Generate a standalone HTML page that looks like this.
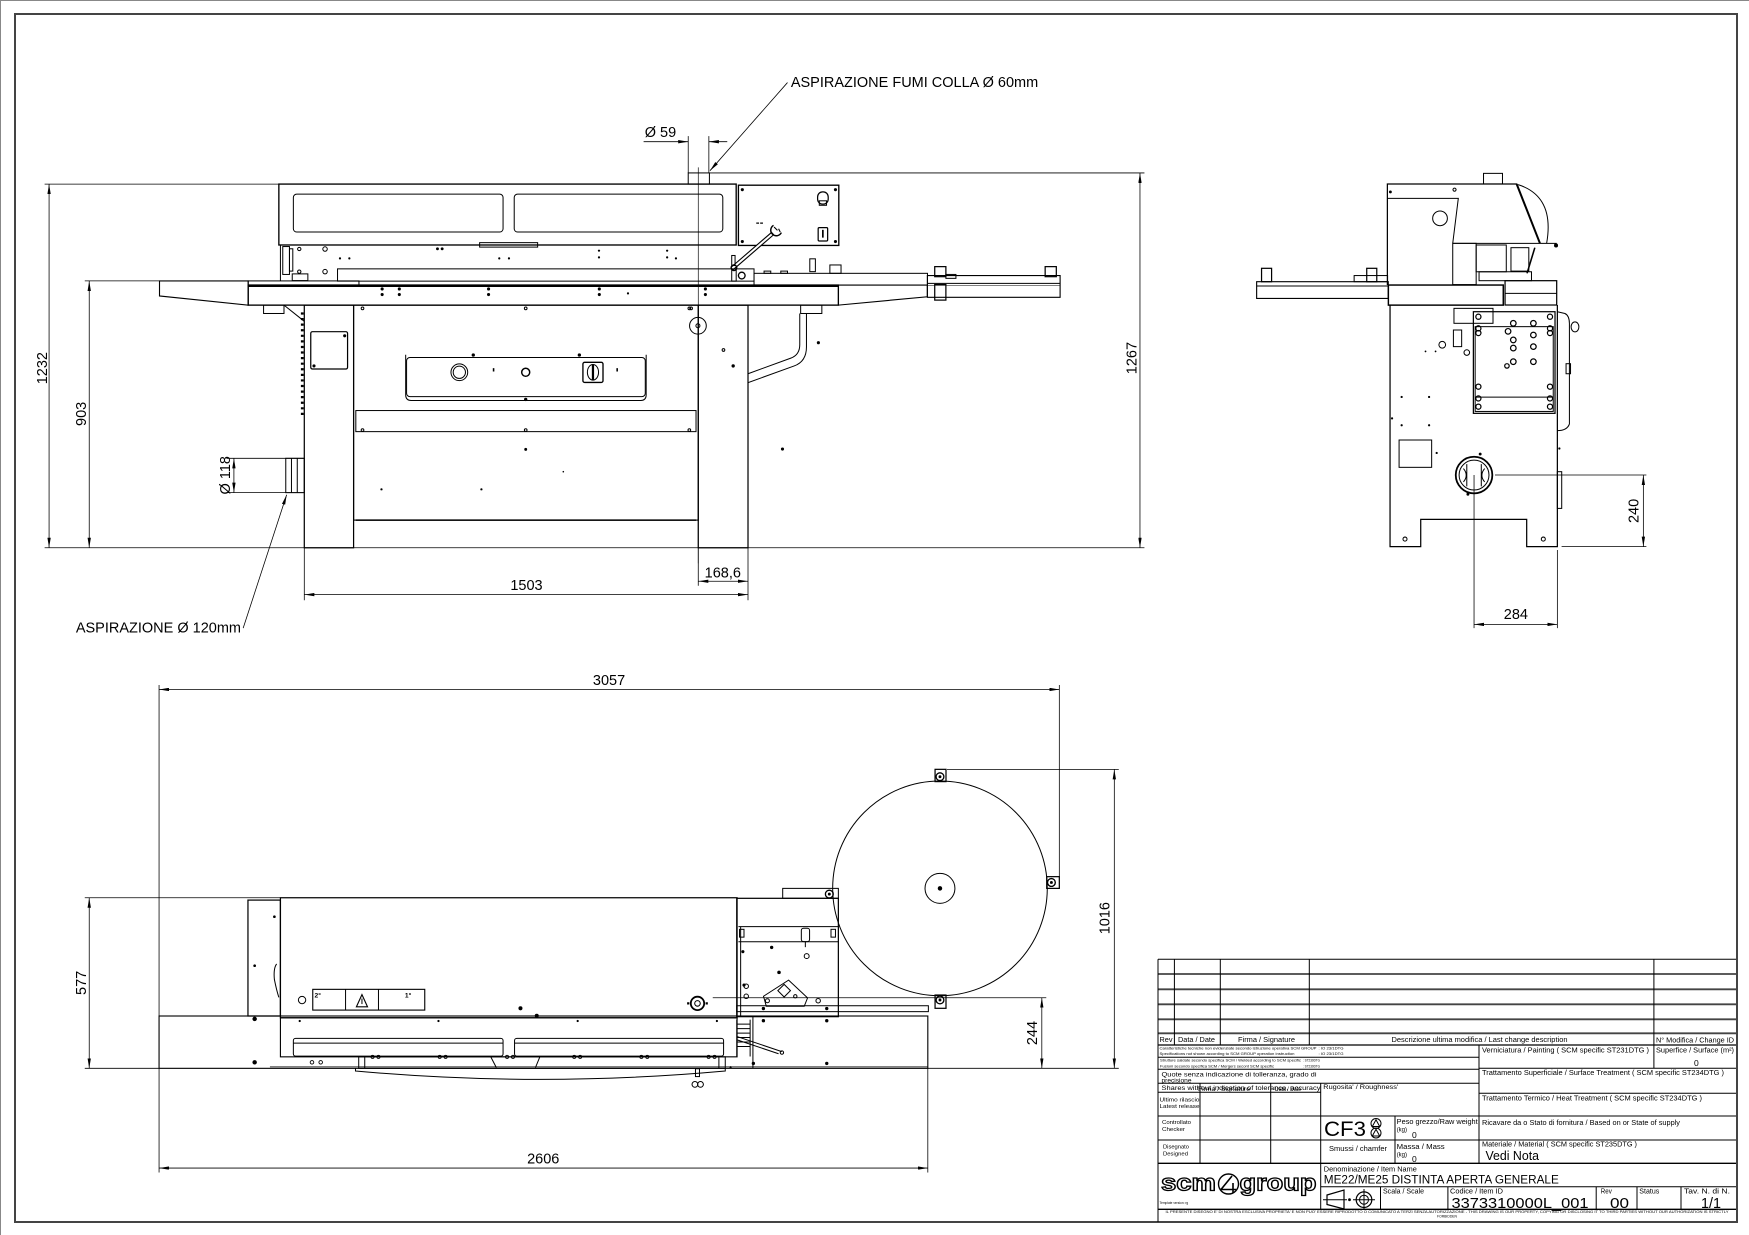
<!DOCTYPE html>
<html><head><meta charset="utf-8"><style>
html,body{margin:0;padding:0;background:#fff;}
svg{display:block;}
text{font-family:"Liberation Sans",Arial,sans-serif;fill:#000;stroke:none;}
.d{fill:#000;stroke:none;}
.dm{stroke-width:0.7;}
</style></head><body>
<svg xmlns="http://www.w3.org/2000/svg" width="1749" height="1235" viewBox="0 0 1749 1235">
<defs>
<marker id="ar" viewBox="0 0 9 3" refX="9" refY="1.5" markerWidth="9" markerHeight="3" markerUnits="userSpaceOnUse" orient="auto-start-reverse"><path d="M0,0 L9,1.5 L0,3 z" fill="#000" stroke="none"/></marker>
</defs>
<rect width="1749" height="1235" fill="#fff"/>
<path d="M0.5,1235 V0.5 H1749" stroke="#888" fill="none"/>
<rect x="15" y="14" width="1722" height="1208" fill="none" stroke="#444" stroke-width="2"/>

<g transform="scale(1.11543 1.11563)" fill="none" stroke="#000" stroke-width="0.9">
<!-- ================= FRONT VIEW ================= -->
<g class="dm">
<line x1="40" y1="165" x2="250" y2="165"/>
<line x1="44" y1="165" x2="44" y2="491" marker-start="url(#ar)" marker-end="url(#ar)"/>
<line x1="76" y1="251.8" x2="143" y2="251.8"/>
<line x1="80" y1="251.8" x2="80" y2="491" marker-start="url(#ar)" marker-end="url(#ar)"/>
<line x1="40" y1="491" x2="1026" y2="491"/>
<line x1="636" y1="155" x2="1026" y2="155"/>
<line x1="1022" y1="155" x2="1022" y2="491" marker-start="url(#ar)" marker-end="url(#ar)"/>
<line x1="617" y1="122" x2="617" y2="155"/>
<line x1="635.5" y1="122" x2="635.5" y2="155"/>
<line x1="577" y1="127" x2="617" y2="127" marker-end="url(#ar)"/>
<line x1="652" y1="127" x2="635.5" y2="127" marker-end="url(#ar)"/>
<line x1="706" y1="74" x2="636.5" y2="153" marker-end="url(#ar)"/>
<line x1="626" y1="150" x2="626" y2="505" stroke-width="0.6"/>
<path d="M203,410.8 H272.8 M203,441.6 H272.8"/>
<line x1="209.7" y1="441.6" x2="209.7" y2="410.8" marker-start="url(#ar)" marker-end="url(#ar)"/>
<line x1="218" y1="563" x2="257" y2="443.5" marker-end="url(#ar)"/>
<path d="M272.8,491 V538 M670.6,491 V538 M626,491 V525"/>
<line x1="272.8" y1="533" x2="670.6" y2="533" marker-start="url(#ar)" marker-end="url(#ar)"/>
<line x1="626" y1="521" x2="670.6" y2="521" marker-start="url(#ar)" marker-end="url(#ar)"/>
</g>
<g font-size="13">
<text transform="translate(42 330) rotate(-90)" text-anchor="middle">1232</text>
<text transform="translate(77 371) rotate(-90)" text-anchor="middle">903</text>
<text transform="translate(1019 321) rotate(-90)" text-anchor="middle">1267</text>
<text transform="translate(206 426) rotate(-90)" text-anchor="middle">Ø 118</text>
<text x="578" y="123">Ø 59</text>
<text x="709" y="78">ASPIRAZIONE FUMI COLLA Ø 60mm</text>
<text x="68" y="567">ASPIRAZIONE Ø 120mm</text>
<text x="472" y="529" text-anchor="middle">1503</text>
<text x="648" y="517.5" text-anchor="middle">168,6</text>
</g>

<rect x="617" y="155" width="19" height="10"/>
<rect x="250" y="165" width="410" height="54.6" stroke-width="1.2"/>
<rect x="263" y="174" width="188" height="34" rx="3"/>
<rect x="461" y="174" width="187" height="34" rx="3"/>
<rect x="430" y="217.5" width="52" height="4"/>
<line x1="251.4" y1="219.6" x2="251.4" y2="251.8"/>
<rect x="253.5" y="221" width="6" height="25"/>
<rect x="259.5" y="223" width="3" height="20"/>
<circle cx="268.3" cy="223.2" r="1.5"/><circle cx="291.4" cy="223.2" r="2"/>
<circle cx="268.3" cy="243.5" r="1.5"/><circle cx="291.4" cy="243.5" r="2"/>
<rect x="262" y="245.5" width="14" height="6"/>
<circle class="d" cx="392.2" cy="223" r="1.3"/><circle class="d" cx="396.4" cy="223" r="1.3"/>
<circle class="d" cx="304.8" cy="231.6" r="1"/><circle class="d" cx="313.2" cy="231.6" r="1"/>
<circle class="d" cx="447.6" cy="231.6" r="1"/><circle class="d" cx="456.3" cy="231.6" r="1"/>
<circle class="d" cx="537" cy="224.7" r="1"/><circle class="d" cx="537" cy="230.7" r="1"/>
<circle class="d" cx="598.1" cy="224.7" r="1"/><circle class="d" cx="598.1" cy="230.7" r="1"/><circle class="d" cx="606" cy="231.6" r="1"/>
<rect x="302.6" y="241" width="357.4" height="11"/>
<rect x="662" y="166" width="90" height="54" stroke-width="1.2"/>
<rect x="733" y="172" width="9.5" height="11" rx="4.5" stroke-width="1.1"/>
<rect x="734.5" y="180" width="6.5" height="4"/>
<rect x="733.5" y="204" width="8.5" height="12" rx="1" stroke-width="1.1"/>
<line x1="737.7" y1="206" x2="737.7" y2="213" stroke-width="1.5"/>
<circle class="d" cx="665.5" cy="170" r="1.4"/><circle class="d" cx="749" cy="170" r="1.4"/>
<circle class="d" cx="665.5" cy="216.5" r="1.4"/><circle class="d" cx="749" cy="216.5" r="1.4"/>
<path d="M678,200 h2.5 M681.5,200 h2.5" stroke-width="1.2"/>
<line x1="656" y1="241" x2="693" y2="209" stroke-width="3.8"/>
<line x1="656.5" y1="240.5" x2="692.5" y2="209.5" stroke="#fff" stroke-width="1.8"/>
<path d="M693.5,202 A5,5 0 1 0 700.5,208.5" stroke-width="1.3"/>
<path d="M694,203.5 L697,206.5 M698,205 L699.5,208" stroke-width="1"/>
<circle cx="658" cy="240" r="2.5" stroke-width="1.2"/>
<rect x="656" y="229" width="3" height="9"/>
<rect x="656" y="241" width="20" height="11"/>
<circle cx="665" cy="247" r="3" stroke-width="1.2"/>
<rect x="676" y="245" width="155.5" height="10.5"/>
<rect x="726" y="232" width="5" height="11.5"/>
<rect x="744" y="237.5" width="10" height="7.5"/>
<rect x="700" y="243" width="6" height="2"/><rect x="685" y="243" width="6" height="2"/>
<path d="M143,251.8 H222.5 V273.5 L143,265.3 Z" stroke-width="1"/>
<rect x="222.5" y="251.8" width="99.3" height="3.7"/>
<rect x="222.5" y="255.5" width="529.1" height="18" stroke-width="1.2"/>
<line x1="222.5" y1="256.3" x2="751.6" y2="256.3" stroke-width="2"/>
<path d="M751.6,255.5 H831.4 V266 L751.6,273.5" stroke-width="1"/>
<rect x="831.4" y="247" width="119" height="19.5" stroke-width="1"/>
<line x1="831.4" y1="254" x2="950.4" y2="254"/>
<line x1="831.4" y1="256" x2="950.4" y2="256" stroke-width="0.5"/>
<rect x="838" y="239" width="10" height="9" stroke-width="1.1"/>
<rect x="838" y="255" width="10" height="14" stroke-width="1.1"/>
<rect x="848" y="246" width="9" height="3.5"/>
<rect x="937" y="239" width="10" height="9" stroke-width="1.1"/>
<g class="d">
<circle cx="342.6" cy="259" r="1.4"/><circle cx="342.6" cy="264" r="1.4"/>
<circle cx="358" cy="259" r="1.4"/><circle cx="358" cy="264" r="1.4"/>
<circle cx="438" cy="259" r="1.4"/><circle cx="438" cy="264" r="1.4"/>
<circle cx="537.3" cy="259" r="1.4"/><circle cx="537.3" cy="264" r="1.4"/>
<circle cx="563" cy="263" r="1"/>
<circle cx="632.4" cy="259" r="1.4"/><circle cx="632.4" cy="264" r="1.4"/>
</g>
<rect x="236.3" y="273.5" width="18.3" height="7.5"/>
<line x1="254.6" y1="273.5" x2="272.8" y2="288"/>
<rect x="717.8" y="273.5" width="19" height="7.5"/>
<rect x="272.8" y="273.5" width="44.2" height="217.5" stroke-width="1.1"/>
<rect x="626" y="273.5" width="44.6" height="217.5" stroke-width="1.1"/>
<rect x="317" y="273.5" width="309" height="192.7" stroke-width="1"/>
<rect x="319" y="368" width="305" height="18.9"/>
<line x1="319" y1="466.2" x2="624" y2="466.2" stroke-width="1.3"/>
<line x1="271" y1="280" x2="271" y2="372" stroke-width="2.5" stroke-dasharray="2 3"/>
<rect x="278.6" y="297.3" width="33" height="33.5" rx="1.5" stroke-width="1.1"/>
<circle class="d" cx="309" cy="301" r="1.4"/><circle class="d" cx="281.5" cy="328" r="1.4"/>
<path d="M363.7,318 V354 Q363.7,359 368.5,359 H574.5 Q579.3,359 579.3,354 V318"/>
<rect x="364.5" y="320.5" width="214" height="35" rx="3"/>
<circle cx="411.8" cy="333.7" r="7.5"/><circle cx="411.8" cy="333.7" r="5.5"/>
<circle cx="471.3" cy="333.7" r="3.6" stroke-width="1.3"/>
<rect x="522.6" y="324.8" width="18" height="18" rx="1.5" stroke-width="1.2"/>
<ellipse cx="531.6" cy="333.7" rx="5" ry="7"/>
<line x1="531.6" y1="327" x2="531.6" y2="340.5" stroke-width="2"/>
<g class="d">
<circle cx="424.3" cy="318.2" r="1.5"/><circle cx="519.4" cy="318.2" r="1.5"/><circle cx="471.3" cy="358" r="1.5"/>
<rect x="441.8" y="330" width="1.4" height="3"/><rect x="552.6" y="330" width="1.4" height="3"/>
<circle cx="471.3" cy="402.8" r="1.3"/><circle cx="342" cy="438.6" r="1"/><circle cx="431.6" cy="438.6" r="1"/><circle cx="505" cy="422.8" r="0.7"/>
</g>
<circle cx="325" cy="276.4" r="1.2"/><circle cx="471.3" cy="276.4" r="1.2"/><circle cx="618" cy="276.4" r="1.2"/>
<circle cx="325" cy="385.5" r="1.2"/><circle cx="471.3" cy="385.5" r="1.2"/><circle cx="618" cy="385.5" r="1.2"/>
<circle cx="625.7" cy="292" r="7.5"/><circle cx="625.7" cy="292" r="1.8"/>
<circle cx="619.6" cy="276.4" r="1.2"/><circle cx="648.6" cy="313.7" r="1.2"/>
<g class="d"><circle cx="657.3" cy="328" r="1.5"/><circle cx="733.7" cy="307.2" r="1.4"/><circle cx="701.5" cy="402.5" r="1.4"/></g>
<path d="M717,281 L717,309 Q717,318 709,321 L670.6,335"/>
<path d="M723,281 L723,311 Q723,324 712,328 L670.6,343"/>
<rect x="256.2" y="410.8" width="16.6" height="30.8"/>
<line x1="261.3" y1="410.8" x2="261.3" y2="441.6"/>
<line x1="266.5" y1="410.8" x2="266.5" y2="441.6"/>

<!-- ================= SIDE VIEW ================= -->
<g class="dm">
<path d="M1340.3,425.8 H1476 M1400,490 H1476"/>
<line x1="1473.3" y1="425.8" x2="1473.3" y2="490" marker-start="url(#ar)" marker-end="url(#ar)"/>
<path d="M1321.5,425.8 V563 M1396.2,493 V563"/>
<line x1="1321.5" y1="559.7" x2="1396.2" y2="559.7" marker-start="url(#ar)" marker-end="url(#ar)"/>
</g>
<g font-size="13">
<text transform="translate(1469 458) rotate(-90)" text-anchor="middle">240</text>
<text x="1359" y="555" text-anchor="middle">284</text>
</g>
<rect x="1330" y="155.4" width="17" height="9.5"/>
<path d="M1243.8,255.5 V164.9 H1359.7 L1380.6,218.1" stroke-width="1.1"/>
<line x1="1359.7" y1="164.9" x2="1380.6" y2="218.1" stroke-width="1.8"/>
<path d="M1361,165.5 Q1394,176 1386.6,218"/>
<path d="M1243.8,177.8 H1307.4 L1302.4,218.1"/>
<line x1="1302.4" y1="218.1" x2="1395.6" y2="218.1"/>
<circle cx="1291" cy="195.7" r="6.6"/>
<circle class="d" cx="1395" cy="220" r="1.8"/><circle class="d" cx="1246.5" cy="172" r="1.3"/>
<circle cx="1304" cy="170" r="1.4"/>
<rect x="1302.4" y="218.1" width="21" height="37"/>
<rect x="1323.4" y="219.6" width="27" height="24"/>
<rect x="1354.6" y="222" width="16" height="21"/>
<rect x="1326" y="243.6" width="47" height="8"/>
<line x1="1376" y1="222" x2="1369" y2="245" stroke-width="1.4"/>
<rect x="1126.6" y="252.5" width="118" height="15" stroke-width="1"/>
<line x1="1126.6" y1="256.4" x2="1244.6" y2="256.4"/>
<rect x="1131" y="240.5" width="9" height="12" stroke-width="1.1"/>
<rect x="1225.3" y="240.5" width="9" height="12" stroke-width="1.1"/>
<rect x="1214" y="247" width="30" height="5.5"/>
<rect x="1244.7" y="255.5" width="103" height="18" stroke-width="1.3"/>
<rect x="1349.3" y="251.6" width="46.3" height="21.8" stroke-width="1.1"/>
<line x1="1349.3" y1="263" x2="1395.6" y2="263"/>
<path d="M1246.2,273.4 V490 H1273.7 V465.5 H1368.7 V490 H1396.2 V273.4" stroke-width="1.1"/>
<circle cx="1259.6" cy="483.2" r="1.8"/><circle cx="1383.6" cy="483.2" r="1.8"/>
<rect x="1254.3" y="394.4" width="29.2" height="24.5"/>
<circle cx="1321.5" cy="425.8" r="16.4" stroke-width="1.6"/>
<circle cx="1321.5" cy="425.8" r="13.4"/>
<path d="M1315,416 V436 M1328,416 V436 M1312,420 Q1317,426 1312,432 M1331,420 Q1326,426 1331,432"/>
<circle class="d" cx="1327" cy="407" r="1.3"/><circle class="d" cx="1316" cy="443" r="1.3"/>
<rect x="1320.9" y="279.4" width="73.2" height="91.1" stroke-width="1.1"/>
<rect x="1322.5" y="292.8" width="70" height="76"/>
<line x1="1322.5" y1="356" x2="1392.5" y2="356"/>
<rect x="1303.5" y="276.4" width="35" height="13.4"/>
<rect x="1303" y="295.8" width="7.4" height="14.9"/>
<circle cx="1293" cy="309" r="3"/>
<circle cx="1315" cy="316" r="2.5"/>
<g stroke-width="1.1">
<circle cx="1325.4" cy="283.9" r="2.3"/><circle cx="1325.4" cy="294.3" r="2.3"/><circle cx="1325.4" cy="298.5" r="2.3"/><circle cx="1325.4" cy="346.6" r="2.3"/><circle cx="1325.4" cy="357.1" r="2.3"/><circle cx="1325.4" cy="364.5" r="2.3"/>
<circle cx="1389.6" cy="283.9" r="2.3"/><circle cx="1389.6" cy="294.3" r="2.3"/><circle cx="1389.6" cy="298.5" r="2.3"/><circle cx="1389.6" cy="346.6" r="2.3"/><circle cx="1389.6" cy="357.1" r="2.3"/><circle cx="1389.6" cy="364.5" r="2.3"/>
<circle cx="1374.7" cy="289.8" r="2.5"/><circle cx="1374.7" cy="300.3" r="2.5"/><circle cx="1374.7" cy="310.7" r="2.5"/><circle cx="1374.7" cy="324.2" r="2.5"/>
<circle cx="1356.7" cy="289.8" r="2.5"/><circle cx="1352" cy="297" r="2.5"/><circle cx="1356.7" cy="304.7" r="2.5"/><circle cx="1356.7" cy="312" r="2.5"/><circle cx="1356.7" cy="324.2" r="2.5"/><circle cx="1351" cy="328" r="2"/>
</g>
<path d="M1396.2,279.4 L1403,281 Q1407,283 1407,290 L1407,380 Q1405,386 1396.2,386"/>
<ellipse cx="1412" cy="293" rx="3.5" ry="4.5"/>
<rect x="1404" y="326" width="4" height="9"/>
<rect x="1396.2" y="422.8" width="3.9" height="32.9"/>
<g class="d"><circle cx="1256.6" cy="355.8" r="1"/><circle cx="1281.2" cy="355.8" r="1"/><circle cx="1256.6" cy="381.2" r="1"/><circle cx="1281.2" cy="381.2" r="1"/><circle cx="1288" cy="406" r="1"/><circle cx="1278" cy="315" r="0.8"/><circle cx="1287" cy="315" r="0.8"/><circle cx="1398" cy="402" r="1"/><circle cx="1248" cy="375" r="1"/></g>

<!-- ================= PLAN VIEW ================= -->
<g class="dm">
<line x1="142.6" y1="614" x2="142.6" y2="1051"/>
<line x1="949.7" y1="614" x2="949.7" y2="786"/>
<line x1="142.6" y1="618" x2="949.7" y2="618" marker-start="url(#ar)" marker-end="url(#ar)"/>
<line x1="76" y1="804.7" x2="251.4" y2="804.7"/>
<line x1="76" y1="957.6" x2="142.6" y2="957.6"/>
<line x1="80" y1="804.7" x2="80" y2="957.6" marker-start="url(#ar)" marker-end="url(#ar)"/>
<line x1="849" y1="689.6" x2="1003" y2="689.6"/>
<line x1="831.8" y1="957.6" x2="1003" y2="957.6"/>
<line x1="999" y1="689.6" x2="999" y2="957.6" marker-start="url(#ar)" marker-end="url(#ar)"/>
<line x1="639" y1="894.3" x2="938" y2="894.3"/>
<line x1="934" y1="894.3" x2="934" y2="957.6" marker-start="url(#ar)" marker-end="url(#ar)"/>
<line x1="831.8" y1="957.6" x2="831.8" y2="1051"/>
<line x1="142.6" y1="1047" x2="831.8" y2="1047" marker-start="url(#ar)" marker-end="url(#ar)"/>
</g>
<g font-size="13">
<text x="546" y="614" text-anchor="middle">3057</text>
<text transform="translate(77 881) rotate(-90)" text-anchor="middle">577</text>
<text transform="translate(994.5 823) rotate(-90)" text-anchor="middle">1016</text>
<text transform="translate(929.5 926) rotate(-90)" text-anchor="middle">244</text>
<text x="487" y="1043" text-anchor="middle">2606</text>
</g>
<circle cx="842.7" cy="796.3" r="96.2"/>
<circle cx="842.7" cy="796.3" r="13.4"/>
<circle class="d" cx="842.7" cy="796.3" r="2"/>
<rect x="838.3" y="689.6" width="9.8" height="11" stroke-width="1.1"/><circle cx="842.7" cy="696.2" r="3.5" stroke-width="1.2"/><circle class="d" cx="842.7" cy="696.2" r="1.3"/>
<rect x="838.3" y="891.9" width="9.8" height="11.9" stroke-width="1.1"/><circle cx="842.7" cy="896.3" r="3.5" stroke-width="1.2"/><circle class="d" cx="842.7" cy="896.3" r="1.3"/>
<rect x="938.4" y="785.8" width="11.3" height="10.5" stroke-width="1.1"/><circle cx="942.6" cy="791" r="3.5" stroke-width="1.2"/><circle class="d" cx="942.6" cy="791" r="1.3"/>
<circle cx="743.5" cy="801.4" r="3.5" stroke-width="1.2"/><circle class="d" cx="743.5" cy="801.4" r="1.3"/>
<rect x="222.3" y="806.8" width="29.1" height="103.9" stroke-width="1.1"/>
<circle class="d" cx="246" cy="821.7" r="1.2"/><circle class="d" cx="228.3" cy="865.6" r="1.2"/>
<path d="M248,864 Q245,868 246,878 Q248,888 250,894"/>
<rect x="251.4" y="804.7" width="409.4" height="107.6" stroke-width="1.1"/>
<rect x="142.6" y="910.7" width="689.2" height="46.9" stroke-width="1"/>
<rect x="251.4" y="912.3" width="409.4" height="35" stroke-width="1"/>
<rect x="263" y="930.7" width="188" height="16" rx="2"/>
<line x1="263" y1="935" x2="451" y2="935"/>
<rect x="461.3" y="930.7" width="187.4" height="16" rx="2"/>
<line x1="461.3" y1="935" x2="648.7" y2="935"/>
<rect x="321.6" y="947.3" width="328.6" height="10.3"/>
<path d="M327,947.3 V957.6 M644.5,947.3 V957.6"/>
<path d="M318.7,957.6 V960 Q484,975 650.2,960 V957.6"/>
<line x1="242" y1="956.3" x2="831.8" y2="956.3" stroke-width="0.6"/>
<g stroke-width="0.8">
<circle cx="334" cy="947.3" r="1.4"/><circle cx="339.3" cy="947.3" r="1.4"/>
<circle cx="394.2" cy="947.3" r="1.4"/><circle cx="399.5" cy="947.3" r="1.4"/>
<circle cx="454.6" cy="947.3" r="1.4"/><circle cx="459.9" cy="947.3" r="1.4"/>
<circle cx="514.8" cy="947.3" r="1.4"/><circle cx="520.1" cy="947.3" r="1.4"/>
<circle cx="575" cy="947.3" r="1.4"/><circle cx="580.3" cy="947.3" r="1.4"/>
<circle cx="635.3" cy="947.3" r="1.4"/><circle cx="640.6" cy="947.3" r="1.4"/>
<circle cx="279.7" cy="952.2" r="1.6"/><circle cx="287.5" cy="952.2" r="1.6"/>
</g>
<path d="M440,947.3 L445,957 M484,947.3 L480,957"/>
<g class="d">
<circle cx="228.3" cy="913.3" r="2"/><circle cx="228.3" cy="952.2" r="2"/>
<circle cx="268.7" cy="915.2" r="1"/><circle cx="393.1" cy="915.2" r="1"/><circle cx="517.9" cy="915.2" r="1"/><circle cx="642.7" cy="915.2" r="1"/>
<circle cx="466.6" cy="903.8" r="1.8"/><circle cx="481.2" cy="910.5" r="1.8"/>
</g>
<circle cx="270.8" cy="896.4" r="3.3"/>
<rect x="280.4" y="886.8" width="100.4" height="18.6" stroke-width="1"/>
<line x1="309.8" y1="886.8" x2="309.8" y2="905.4"/><line x1="339.3" y1="886.8" x2="339.3" y2="905.4"/>
<polygon points="319.5,902.5 324.5,891.5 329.5,902.5" stroke-width="1"/>
<line x1="324.5" y1="895" x2="324.5" y2="900"/>
<text x="282" y="894" font-size="6" font-weight="bold">2°</text>
<text x="363" y="894" font-size="6" font-weight="bold">1°</text>
<circle cx="625.3" cy="899.4" r="6" stroke-width="1.6"/>
<circle cx="625.3" cy="899.4" r="2.5"/>
<path d="M618,899.4 h-2 M632.6,899.4 h2" stroke-width="2"/>
<rect x="623.5" y="958" width="3.6" height="7"/>
<circle cx="623" cy="972" r="2.6"/><circle cx="628" cy="972" r="2.6"/>
<rect x="701.7" y="796.3" width="49.9" height="8.9"/>
<rect x="660.5" y="805.2" width="91.1" height="106.1" stroke-width="1.1"/>
<path d="M662,830.6 H751.6 M662,844.1 H751.6 M664,830.6 V911.3"/>
<rect x="663" y="833" width="4" height="7"/><rect x="745" y="833" width="4" height="7"/>
<rect x="718.4" y="832" width="7.4" height="12" rx="2"/>
<line x1="722" y1="844" x2="722" y2="849"/>
<g class="d"><circle cx="691.8" cy="849.2" r="1.5"/><circle cx="698.4" cy="871.6" r="1.6"/><circle cx="666" cy="853" r="1.4"/><circle cx="667" cy="883" r="1.4"/></g>
<circle cx="723.2" cy="857" r="2.2"/>
<polygon points="684.5,893 707,878.5 724,894.5 721,902 687,902"/>
<rect x="699" y="884" width="8" height="8" transform="rotate(45 703 888)"/>
<circle cx="688" cy="897" r="1.8"/><circle cx="713" cy="893" r="1.5"/><circle cx="733.5" cy="897" r="2"/>
<circle cx="669" cy="893" r="2"/><circle cx="669" cy="884" r="2"/>
<rect x="660.5" y="901.5" width="171.8" height="5.3"/>
<g class="d"><circle cx="684.4" cy="904" r="1.5"/><circle cx="741.2" cy="904" r="1.5"/><circle cx="684.4" cy="914.9" r="1.5"/><circle cx="741.2" cy="914.9" r="1.5"/><circle cx="675.4" cy="953.2" r="1.5"/><circle cx="741.2" cy="953.2" r="1.5"/><circle cx="655" cy="956.6" r="1"/></g>
<path d="M660.5,914 V947 M672.5,914 V947 M660.5,918 H672.5 M660.5,922 H672.5 M660.5,926 H672.5 M660.5,930 H672.5 M660.5,934 H672.5 M660.5,938 H672.5 M675,911.3 V957.6"/>
<path d="M660.5,929 L700.9,942.6 M660.5,932 L698,944.5"/>
<circle cx="701" cy="943.5" r="1.5"/>
</g>

<!-- ================= TITLE BLOCK ================= -->
<g fill="none" stroke="#000" stroke-width="1">
<line x1="1158" y1="959.3" x2="1736" y2="959.3"/>
<g stroke="#444" stroke-width="1.8">
<line x1="1158" y1="974" x2="1736" y2="974"/>
<line x1="1158" y1="989.3" x2="1736" y2="989.3"/>
<line x1="1158" y1="1004.3" x2="1736" y2="1004.3"/>
<line x1="1158" y1="1019.3" x2="1736" y2="1019.3"/>
<line x1="1158" y1="1033.3" x2="1736" y2="1033.3"/>
</g>
<line x1="1158" y1="1045" x2="1736" y2="1045" stroke-width="1.3"/>
<line x1="1158" y1="959.3" x2="1158" y2="1222"/>
<line x1="1174.4" y1="959.3" x2="1174.4" y2="1045"/>
<line x1="1220.3" y1="959.3" x2="1220.3" y2="1045"/>
<line x1="1309.3" y1="959.3" x2="1309.3" y2="1045"/>
<line x1="1653.9" y1="959.3" x2="1653.9" y2="1068.3"/>
<line x1="1479" y1="1045" x2="1479" y2="1163.3"/>
<line x1="1158" y1="1057.3" x2="1479" y2="1057.3"/>
<line x1="1158" y1="1069.3" x2="1479" y2="1069.3"/>
<line x1="1158" y1="1083.3" x2="1479" y2="1083.3"/>
<line x1="1158" y1="1092.3" x2="1320.7" y2="1092.3"/>
<line x1="1479" y1="1068.3" x2="1736" y2="1068.3"/>
<line x1="1479" y1="1093.3" x2="1736" y2="1093.3"/>
<line x1="1158" y1="1116" x2="1736" y2="1116"/>
<line x1="1158" y1="1140" x2="1736" y2="1140"/>
<line x1="1158" y1="1163.3" x2="1736" y2="1163.3" stroke-width="1.3"/>
<line x1="1200" y1="1083.3" x2="1200" y2="1163.3"/>
<line x1="1270.7" y1="1083.3" x2="1270.7" y2="1163.3"/>
<line x1="1320.7" y1="1083.3" x2="1320.7" y2="1209.3"/>
<line x1="1395" y1="1116" x2="1395" y2="1163.3"/>
<line x1="1320.7" y1="1186.7" x2="1736" y2="1186.7"/>
<line x1="1380.5" y1="1186.7" x2="1380.5" y2="1209.3"/>
<line x1="1447.9" y1="1186.7" x2="1447.9" y2="1209.3"/>
<line x1="1596.2" y1="1186.7" x2="1596.2" y2="1209.3"/>
<line x1="1637" y1="1186.7" x2="1637" y2="1209.3"/>
<line x1="1681" y1="1186.7" x2="1681" y2="1209.3"/>
<line x1="1158" y1="1209.3" x2="1736" y2="1209.3" stroke-width="1.3"/>
<path d="M1327,1195 L1344,1190 V1209 L1327,1204.5 Z" stroke-width="1.2"/>
<line x1="1323" y1="1199.7" x2="1347" y2="1199.7"/>
<circle cx="1349.5" cy="1199.7" r="0.9" fill="#000"/>
<circle cx="1364" cy="1199.7" r="7.8" stroke-width="1.2"/>
<circle cx="1364" cy="1199.7" r="4.5"/>
<line x1="1353" y1="1199.7" x2="1375" y2="1199.7"/>
<line x1="1364" y1="1189" x2="1364" y2="1210"/>
<circle cx="1376" cy="1123.5" r="5"/><circle cx="1376" cy="1133" r="5"/>
<path d="M1372.3,1126.5 L1376,1119.8 L1379.7,1126.5 Z M1372.3,1136 L1376,1129.3 L1379.7,1136 Z"/>
<circle cx="1228.5" cy="1184" r="10" stroke-width="1.4" fill="#fff"/>
<path d="M1221,1189.5 H1236 M1221,1189.5 L1232,1176 M1233,1183 V1193" stroke-width="1.6"/>
</g>
<g font-size="7">
<text x="1159.5" y="1042" textLength="13" lengthAdjust="spacingAndGlyphs">Rev</text>
<text x="1178" y="1042" textLength="37" lengthAdjust="spacingAndGlyphs">Data / Date</text>
<text x="1238" y="1042" textLength="57" lengthAdjust="spacingAndGlyphs">Firma / Signature</text>
<text x="1391.5" y="1042" textLength="176" lengthAdjust="spacingAndGlyphs">Descrizione ultima modifica / Last change description</text>
<text x="1656" y="1042.5" textLength="78" lengthAdjust="spacingAndGlyphs">N° Modifica / Change ID</text>
</g>
<g font-size="3.8">
<text x="1159.5" y="1049.5" textLength="157" lengthAdjust="spacingAndGlyphs">Caratteristiche tecniche non evidenziate secondo istruzione operativa SCM GROUP</text>
<text x="1318.5" y="1049.5" textLength="25" lengthAdjust="spacingAndGlyphs">: IO 23/1DTG</text>
<text x="1159.5" y="1055" textLength="135" lengthAdjust="spacingAndGlyphs">Specifications not shown according to SCM GROUP operation instruction</text>
<text x="1318.5" y="1055" textLength="25" lengthAdjust="spacingAndGlyphs">: IO 23/1DTG</text>
<text x="1160" y="1061.5" textLength="141" lengthAdjust="spacingAndGlyphs">Strutture saldate secondo specifica SCM / Welded according to SCM specific</text>
<text x="1303" y="1061.5" textLength="17" lengthAdjust="spacingAndGlyphs">: ST230DTG</text>
<text x="1160" y="1067.5" textLength="114" lengthAdjust="spacingAndGlyphs">Fusioni secondo specifica SCM / Mergers secont SCM specific</text>
<text x="1303" y="1067.5" textLength="17" lengthAdjust="spacingAndGlyphs">: ST230DTG</text>
</g>
<g font-size="6.5">
<text x="1161.5" y="1076.5" textLength="155" lengthAdjust="spacingAndGlyphs">Quote senza indicazione di tolleranza, grado di</text>
<text x="1161.5" y="1082.5" textLength="30" lengthAdjust="spacingAndGlyphs">precisione</text>
<text x="1161.5" y="1090" textLength="159" lengthAdjust="spacingAndGlyphs">Shares without indication of tolerance, accuracy</text>
<text x="1198" y="1091" textLength="52" lengthAdjust="spacingAndGlyphs">Firma / Signature</text>
<text x="1275" y="1091" textLength="26" lengthAdjust="spacingAndGlyphs">Data / Date</text>
<text x="1323.3" y="1089" textLength="75" lengthAdjust="spacingAndGlyphs">Rugosita' / Roughness'</text>
</g>
<g font-size="5">
<text x="1159.5" y="1101.5" textLength="40" lengthAdjust="spacingAndGlyphs">Ultimo rilascio</text>
<text x="1159.5" y="1108" textLength="40" lengthAdjust="spacingAndGlyphs">Latest release</text>
<text x="1162" y="1124" textLength="29" lengthAdjust="spacingAndGlyphs">Controllato</text>
<text x="1162" y="1131" textLength="23" lengthAdjust="spacingAndGlyphs">Checker</text>
<text x="1163" y="1148.5" textLength="26" lengthAdjust="spacingAndGlyphs">Disegnato</text>
<text x="1163" y="1155.5" textLength="25" lengthAdjust="spacingAndGlyphs">Designed</text>
</g>
<text x="1324" y="1136" font-size="21" textLength="42" lengthAdjust="spacingAndGlyphs">CF3</text>
<g font-size="7">
<text x="1329" y="1151" textLength="58" lengthAdjust="spacingAndGlyphs">Smussi / chamfer</text>
<text x="1396.7" y="1124" textLength="81" lengthAdjust="spacingAndGlyphs">Peso grezzo/Raw weight</text>
<text x="1396.7" y="1149" textLength="48" lengthAdjust="spacingAndGlyphs">Massa  / Mass</text>
<text x="1482" y="1052.7" textLength="167" lengthAdjust="spacingAndGlyphs">Verniciatura / Painting ( SCM specific ST231DTG )</text>
<text x="1656" y="1052.7" textLength="78" lengthAdjust="spacingAndGlyphs">Superfice / Surface (m²)</text>
<text x="1482" y="1075" textLength="242" lengthAdjust="spacingAndGlyphs">Trattamento Superficiale / Surface Treatment ( SCM specific ST234DTG )</text>
<text x="1482" y="1100.7" textLength="220" lengthAdjust="spacingAndGlyphs">Trattamento Termico / Heat Treatment ( SCM specific ST234DTG )</text>
<text x="1482" y="1125" textLength="198" lengthAdjust="spacingAndGlyphs">Ricavare da o Stato di fornitura / Based on or State of supply</text>
<text x="1482" y="1146.7" textLength="155" lengthAdjust="spacingAndGlyphs">Materiale / Material ( SCM specific ST235DTG )</text>
<text x="1323.8" y="1171.7" textLength="93" lengthAdjust="spacingAndGlyphs">Denominazione / Item Name</text>
<text x="1383" y="1193.3" textLength="41" lengthAdjust="spacingAndGlyphs">Scala / Scale</text>
<text x="1450" y="1193.3" textLength="53" lengthAdjust="spacingAndGlyphs">Codice / Item ID</text>
<text x="1600.8" y="1193.3" textLength="11" lengthAdjust="spacingAndGlyphs">Rev</text>
<text x="1639.3" y="1193.3" textLength="20" lengthAdjust="spacingAndGlyphs">Status</text>
<text x="1684" y="1193.3" textLength="46" lengthAdjust="spacingAndGlyphs">Tav. N. di N.</text>
</g>
<g font-size="6">
<text x="1396.7" y="1131.5">(kg)</text>
<text x="1396.7" y="1156.5">(kg)</text>
</g>
<g font-size="8.5">
<text x="1412" y="1138">0</text>
<text x="1412" y="1162">0</text>
<text x="1694" y="1066">0</text>
</g>
<text x="1485.5" y="1160" font-size="12.5" textLength="53.5" lengthAdjust="spacingAndGlyphs">Vedi Nota</text>
<text x="1323.8" y="1183.3" font-size="11.5" textLength="235" lengthAdjust="spacingAndGlyphs">ME22/ME25 DISTINTA APERTA GENERALE</text>
<text x="1451.5" y="1208" font-size="15" textLength="137" lengthAdjust="spacingAndGlyphs">3373310000L_001</text>
<text x="1610" y="1208" font-size="15" textLength="19" lengthAdjust="spacingAndGlyphs">00</text>
<text x="1701" y="1208" font-size="15" textLength="20" lengthAdjust="spacingAndGlyphs">1/1</text>
<g font-size="23" font-weight="bold">
<text x="1161" y="1190.5" textLength="55" lengthAdjust="spacingAndGlyphs" style="fill:#fff;stroke:#000;stroke-width:1.3">scm</text>
<text x="1239.5" y="1190.5" textLength="77" lengthAdjust="spacingAndGlyphs" style="fill:#fff;stroke:#000;stroke-width:1.3">group</text>
</g>
<text x="1159.5" y="1204" font-size="3.2">Template version: rg</text>
<text x="1447" y="1213" font-size="3.4" text-anchor="middle" textLength="563" lengthAdjust="spacingAndGlyphs">IL PRESENTE DISEGNO E' DI NOSTRA ESCLUSIVA PROPRIETA' E NON PUO' ESSERE RIPRODOTTO O COMUNICATO A TERZI SENZA AUTORIZZAZIONE - THIS DRAWING IS OUR PROPERTY, COPYING OR DISCLOSING IT TO THIRD PARTIES WITHOUT OUR AUTHORIZATION IS STRICTLY</text>
<text x="1447" y="1217.5" font-size="3.4" text-anchor="middle">FORBIDDEN</text>
</svg>
</body></html>
